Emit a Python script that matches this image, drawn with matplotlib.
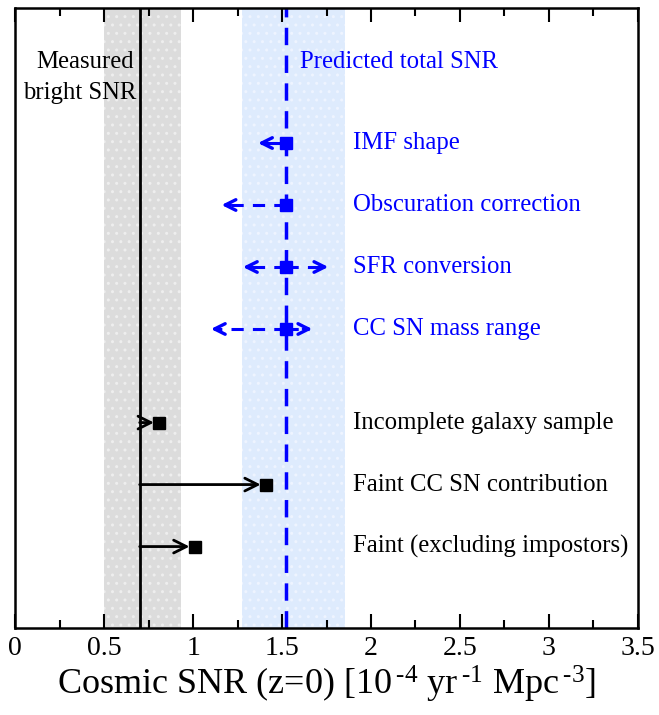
import matplotlib
matplotlib.use("Agg")
import matplotlib.pyplot as plt

plt.rcParams["font.family"] = ["Liberation Serif", "DejaVu Serif"]
plt.rcParams["mathtext.fontset"] = "custom"
plt.rcParams["mathtext.rm"] = "Liberation Serif"
plt.rcParams["mathtext.default"] = "regular"
plt.rcParams["hatch.linewidth"] = 1.0

# measured bright SNR and its band
measured = 0.70
measured_band = (0.50, 0.93)
# predicted total SNR and its band
predicted = 1.52
predicted_band = (1.275, 1.855)

# blue systematic rows: label, y, left end, right end, dashed
blue_labels = ["IMF shape", "Obscuration correction", "SFR conversion", "CC SN mass range"]
blue_y = [7.82, 6.82, 5.82, 4.82]
blue_lo = [1.365, 1.16, 1.28, 1.10]
blue_hi = [None, None, 1.76, 1.67]
blue_dashed = [False, True, True, True]

# black rows: label, y, marker position
black_labels = ["Incomplete galaxy sample", "Faint CC SN contribution", "Faint (excluding impostors)"]
black_y = [3.31, 2.31, 1.31]
black_x = [0.81, 1.41, 1.01]

fs = 17.8

fig = plt.figure(figsize=(6.59, 7.15), dpi=100)
ax = fig.add_axes([0.023, 0.122, 0.945, 0.867])

ax.axvspan(*measured_band, facecolor="#dcdcdc", edgecolor="#eeeeee", hatch="..", lw=0, zorder=0)
ax.axvspan(*predicted_band, facecolor="#deebfd", edgecolor="#eef4ff", hatch="..", lw=0, zorder=0)
ax.axvline(measured, color="black", lw=2, zorder=2)
ax.axvline(predicted, color="blue", lw=2.5, ls=(0, (5, 3)), zorder=2)


def blue_arrow(x0, x1, y, dashed):
    ls = (0, (4, 3)) if dashed else "-"
    sign = 1 if x1 > x0 else -1
    ax.plot([x0, x1 - sign * 0.02], [y, y], color="blue", lw=2.2, ls=ls, zorder=3)
    ax.annotate("", xy=(x1, y), xytext=(x1 - sign * 0.05, y),
                arrowprops=dict(arrowstyle="->", color="blue", lw=2.4,
                                mutation_scale=19, shrinkA=0, shrinkB=0))


for lab, y, lo, hi, dsh in zip(blue_labels, blue_y, blue_lo, blue_hi, blue_dashed):
    blue_arrow(predicted, lo, y, dsh)
    if hi is not None:
        blue_arrow(predicted, hi, y, dsh)
    ax.plot(predicted, y, "s", color="blue", ms=9, zorder=4)
    ax.text(1.90, y, lab, color="blue", fontsize=fs, va="center", ha="left")

for lab, y, x in zip(black_labels, black_y, black_x):
    ax.annotate("", xy=(x - 0.03, y), xytext=(measured, y),
                arrowprops=dict(arrowstyle="->", color="black", lw=2,
                                mutation_scale=23, shrinkA=0, shrinkB=0))
    ax.plot(x, y, "s", color="black", ms=9, zorder=4)
    ax.text(1.90, y, lab, color="black", fontsize=fs, va="center", ha="left")

ax.text(predicted + 0.08, 9.13, "Predicted total SNR", color="blue", fontsize=fs, va="center", ha="left")
ax.text(measured - 0.03, 9.13, "Measured", color="black", fontsize=fs, va="center", ha="right")
ax.text(measured - 0.02, 8.63, "bright SNR", color="black", fontsize=fs, va="center", ha="right")

ax.set_xlim(0, 3.5)
ax.set_ylim(0, 10)
ax.set_yticks([])
ax.set_xticks([0, 0.5, 1, 1.5, 2, 2.5, 3, 3.5])
ax.set_xticklabels(["0", "0.5", "1", "1.5", "2", "2.5", "3", "3.5"])
ax.set_xticks([0.25, 0.75, 1.25, 1.75, 2.25, 2.75, 3.25], minor=True)
ax.tick_params(axis="x", which="both", direction="in", top=True, width=1.5, labelsize=20, pad=6)
ax.tick_params(axis="x", which="major", length=10)
ax.tick_params(axis="x", which="minor", length=6)
for s in ax.spines.values():
    s.set_linewidth(1.8)
ax.set_xlabel("Cosmic SNR (z=0) [10$^{\\,\u20104}$ yr$^{\\,\u20101}$ Mpc$^{\\,\u20103}$]",
              fontsize=26, labelpad=2)

fig.savefig("out.png", dpi=100)
